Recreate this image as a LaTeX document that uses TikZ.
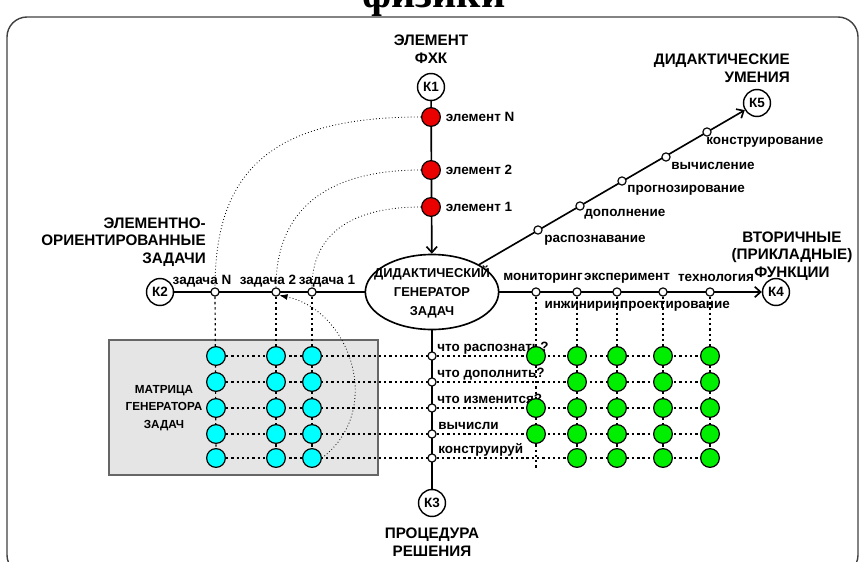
\documentclass[tikz,border=0pt]{standalone}
\usepackage{fontspec}
\setmainfont{Liberation Sans}
\newfontfamily\titlefont{Liberation Serif}
\usetikzlibrary{positioning}
\usetikzlibrary{calc}
\usetikzlibrary{shapes.geometric}
\usetikzlibrary{arrows.meta}
\usetikzlibrary{backgrounds}
\definecolor{dotred}{RGB}{235,0,0}
\definecolor{dotcyan}{RGB}{0,255,255}
\definecolor{dotgreen}{RGB}{0,238,0}

\begin{document}
\begin{tikzpicture}[x=0.03cm, y=-0.03cm,
    knode/.style={circle, draw, line width=1.2pt, fill=white, minimum size=23pt, inner sep=0pt, font=\bfseries\fontsize{11.5}{12}\selectfont},
    reddot/.style={circle, draw, line width=1pt, fill=dotred, minimum size=16pt, inner sep=0pt},
    cyandot/.style={circle, draw, line width=1pt, fill=dotcyan, minimum size=16pt, inner sep=0pt},
    greendot/.style={circle, draw, line width=1pt, fill=dotgreen, minimum size=16pt, inner sep=0pt},
    smallnode/.style={circle, draw, line width=1pt, fill=white, minimum size=7pt, inner sep=0pt},
    headtext/.style={font=\bfseries\fontsize{13}{15}\selectfont, align=center, inner sep=0pt},
    smalltext/.style={font=\bfseries\fontsize{11.5}{13}\selectfont, inner sep=1pt},
    mainline/.style={line width=1.4pt},
    gridline/.style={line width=1pt, dash pattern=on 2pt off 2.5pt},
    arcline/.style={line width=0.7pt, dotted},
    >={Straight Barb[length=5pt, width=9pt]},
    ]
    \useasboundingbox (0,0) rectangle (861,562);
    \draw[rounded corners=0.6cm, line width=1.2pt, black!75] (7,17) rectangle (858,575);
    \node[anchor=base west, font=\titlefont\bfseries\fontsize{36}{40}\selectfont, inner sep=0pt] (title) at (362,8) {физики};

    % main nodes
    \node[ellipse, draw, mainline, fill=white, minimum width=4.0cm, minimum height=2.25cm, inner sep=0pt] (gen) at (432,292) {};
    \node[align=center, inner sep=0pt, font=\bfseries\fontsize{11}{16}\selectfont] (gentxt) at (gen) {ДИДАКТИЧЕСКИЙ\\ГЕНЕРАТОР\\ЗАДАЧ};
    \node[knode] (K1) at (431,87) {К1};
    \node[knode] (K2) at (160,292) {К2};
    \node[knode] (K3) at (432,503) {К3};
    \node[knode] (K4) at (776,292) {К4};
    \node[knode] (K5) at (757,103) {К5};

    \node[headtext, above=8pt of K1] (hK1) {ЭЛЕМЕНТ\\ФХК};
    \node[headtext, below=9pt of K3] (hK3) {ПРОЦЕДУРА\\РЕШЕНИЯ};
    \node[headtext, align=right, anchor=east] (hK2) at (206,242) {ЭЛЕМЕНТНО-\\ОРИЕНТИРОВАННЫЕ\\ЗАДАЧИ};
    \node[headtext, align=right, anchor=east] (hK5) at (790,68) {ДИДАКТИЧЕСКИЕ\\УМЕНИЯ};
    \node[headtext] (hK4) at (792,256) {ВТОРИЧНЫЕ\\(ПРИКЛАДНЫЕ)\\ФУНКЦИИ};

    % element axis
    \node[reddot] (eN) at (431,117) {};
    \node[reddot] (e2) at (431,170) {};
    \node[reddot] (e1) at (431,207) {};
    \node[smalltext, right=3pt of eN] (teN) {элемент N};
    \node[smalltext, right=3pt of e2] (te2) {элемент 2};
    \node[smalltext, right=3pt of e1] (te1) {элемент 1};

    % task axis
    \node[smallnode] (zN) at (215,292) {};
    \node[smallnode] (z2) at (276,292) {};
    \node[smallnode] (z1) at (312,292) {};
    \node[smalltext] (tzN) at (202,281) {задача N};
    \node[smalltext] (tz2) at (268,281) {задача 2};
    \node[smalltext] (tz1) at (327,281) {задача 1};

    % skills axis
    \node[smallnode] (d1) at (538,230) {};
    \node[smallnode] (d2) at (580,206) {};
    \node[smallnode] (d3) at (622,181) {};
    \node[smallnode] (d4) at (666,157) {};
    \node[smallnode] (d5) at (707,132) {};
    \node[smalltext, anchor=west] (td1) at (543,240) {распознавание};
    \node[smalltext, anchor=west] (td2) at (583,214) {дополнение};
    \node[smalltext, anchor=west] (td3) at (626,190) {прогнозирование};
    \node[smalltext, anchor=west] (td4) at (670,166) {вычисление};
    \node[smalltext, anchor=west] (td5) at (705,142) {конструирование};

    % functions axis
    \node[smallnode] (m1) at (536,292) {};
    \node[smallnode] (m2) at (577,292) {};
    \node[smallnode] (m3) at (617,292) {};
    \node[smallnode] (m4) at (663,292) {};
    \node[smallnode] (m5) at (710,292) {};
    \node[smalltext] (tm1) at (543,278) {мониторинг};
    \node[smalltext] (tm3) at (627,278) {эксперимент};
    \node[smalltext] (tm5) at (716,278) {технология};
    \node[smalltext] (tm2) at (585,306) {инжиниринг};
    \node[smalltext] (tm4) at (675,306) {проектирование};

    % procedure axis
    \foreach \y [count=\i] in {356,382,408,434,458} {
        \node[smallnode] (r\i) at (432,\y) {};
    }
    \node[smalltext, anchor=base west] (tr1) at (436,351) {что распознать?};
    \node[smalltext, anchor=base west] (tr2) at (436,377) {что дополнить?};
    \node[smalltext, anchor=base west] (tr3) at (436,403) {что изменится?};
    \node[smalltext, anchor=base west] (tr4) at (437,429) {вычисли};
    \node[smalltext, anchor=base west] (tr5) at (437,453) {конструируй};

    % matrix
    \node[align=center, inner sep=0pt, font=\bfseries\fontsize{10}{15}\selectfont] (mtx) at (164,408) {МАТРИЦА\\ГЕНЕРАТОРА\\ЗАДАЧ};
    \foreach \y [count=\i] in {356,382,408,434,458} {
        \foreach \x [count=\j] in {216,276,312} {
            \node[cyandot] (c\i\j) at (\x,\y) {};
        }
        \foreach \x [count=\j] in {577,617,663,710} {
            \pgfmathtruncatemacro{\k}{\j+1}
            \node[greendot] (g\i\k) at (\x,\y) {};
        }
    }
    \node[greendot] (g11) at (536,356) {};
    \node[greendot] (g31) at (536,408) {};
    \node[greendot] (g41) at (536,434) {};
    \coordinate (g1end) at (536,470);

    \begin{scope}[on background layer]
        \draw[fill=black!10, draw=black!60, line width=1pt] (109,340) rectangle (378,475);

        \foreach \i in {1,...,5} {
            \draw[gridline] (c\i1) -- (g\i5);
        }
        \draw[gridline] (zN) -- (c51);
        \draw[gridline] (z2) -- (c52);
        \draw[gridline] (z1) -- (c53);
        \draw[gridline] (m1) -- (g1end);
        \draw[gridline] (m2) -- (g52);
        \draw[gridline] (m3) -- (g53);
        \draw[gridline] (m4) -- (g54);
        \draw[gridline] (m5) -- (g55);

        \draw[arcline] (eN.west) .. controls (276,117) and (215,167) .. (zN.north);
        \draw[arcline] (e2.west) .. controls (326,170) and (276,210) .. (z2.north);
        \draw[arcline] (e1.west) .. controls (350,207) and (312,235) .. (z1.north);

        \draw[mainline, ->] (K1) -- (gen);
        \draw[mainline] (K2) -- (gen);
        \draw[mainline, ->] (gen) -- (K4);
        \draw[mainline, ->] (gen) -- (K5);
        \draw[mainline] (gen) -- (K3);
    \end{scope}

    \draw[arcline, -{Latex[length=7pt, width=5pt]}] (c53.east) .. controls (385,410) and (350,310) .. (z2.south east);
\end{tikzpicture}
\end{document}
